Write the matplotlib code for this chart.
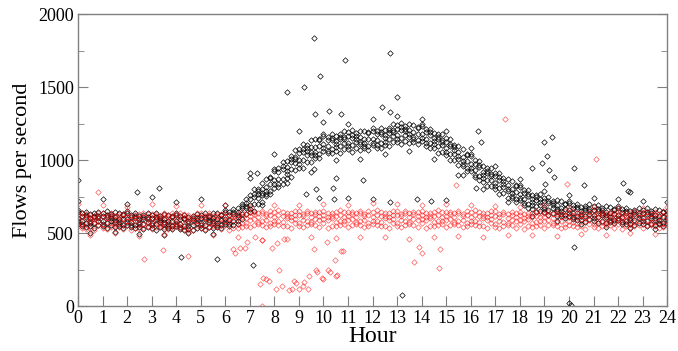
import numpy as np
import matplotlib
matplotlib.use("Agg")
import matplotlib.pyplot as plt
from matplotlib.ticker import MultipleLocator

plt.rcParams["font.family"] = ["Liberation Serif", "DejaVu Serif"]

# sample times: every 10 minutes, and every 30 minutes for the fringe rows
t10 = np.arange(0, 24 * 60 + 1, 10) / 60.0
t30 = np.arange(0, 24 * 60 + 1, 30) / 60.0

# black series, five samples per 10-minute slot (one line per hour)
black_1 = [
    643, 585, 624, 548, 607, 646,
    548, 608, 585, 641, 561, 623,
    636, 577, 616, 540, 599, 637,
    538, 597, 573, 629, 548, 611,
    623, 565, 605, 530, 591, 631,
    535, 596, 575, 634, 556, 622,
    645, 589, 645, 585, 672, 736,
    645, 748, 743, 846, 767, 876,
    925, 870, 956, 875, 987, 1068,
    949, 1053, 1037, 1135, 1032, 1138,
    1162, 1094, 1153, 1061, 1143, 1199,
    1075, 1153, 1123, 1198, 1097, 1183,
    1202, 1134, 1192, 1101, 1187, 1245,
    1125, 1203, 1173, 1248, 1141, 1219,
    1232, 1147, 1189, 1081, 1143, 1179,
    1035, 1093, 1043, 1098, 972, 1033,
    1027, 934, 967, 851, 912, 945,
    800, 861, 815, 873, 754, 821,
    818, 735, 769, 666, 728, 766,
    644, 703, 671, 727, 633, 697,
    705, 638, 678, 592, 656, 696,
    586, 650, 621, 682, 592, 661,
    673, 607, 650, 565, 630, 673,
    564, 628, 601, 662, 572, 641,
    648,
]
black_2 = [
    565, 635, 542, 601, 572, 616,
    615, 535, 630, 574, 599, 558,
    558, 627, 534, 593, 564, 607,
    605, 524, 618, 562, 586, 546,
    545, 615, 523, 583, 556, 601,
    602, 523, 620, 567, 594, 557,
    559, 644, 555, 644, 633, 703,
    733, 653, 802, 758, 816, 791,
    811, 943, 837, 952, 936, 1024,
    1046, 947, 1102, 1038, 1088, 1043,
    1061, 1159, 1046, 1130, 1097, 1160,
    1163, 1058, 1182, 1110, 1146, 1098,
    1101, 1199, 1085, 1170, 1141, 1206,
    1213, 1108, 1232, 1160, 1190, 1134,
    1131, 1212, 1082, 1150, 1097, 1140,
    1123, 998, 1102, 1010, 1021, 948,
    926, 999, 860, 920, 866, 906,
    888, 766, 874, 785, 803, 736,
    724, 795, 671, 730, 686, 730,
    718, 622, 721, 653, 675, 625,
    619, 693, 588, 651, 617, 663,
    660, 569, 671, 608, 634, 589,
    587, 662, 560, 624, 591, 640,
    638, 547, 651, 588, 614, 569,
    572,
]
black_3 = [
    600, 547, 612, 628, 537, 586,
    582, 623, 552, 609, 639, 538,
    593, 539, 604, 620, 529, 577,
    572, 612, 540, 597, 626, 526,
    580, 527, 593, 610, 521, 571,
    569, 611, 542, 602, 634, 537,
    598, 547, 632, 674, 594, 669,
    690, 768, 701, 804, 868, 765,
    862, 815, 938, 991, 885, 981,
    998, 1075, 989, 1089, 1146, 1014,
    1107, 1045, 1137, 1166, 1051, 1120,
    1120, 1173, 1081, 1156, 1198, 1072,
    1147, 1085, 1176, 1206, 1095, 1166,
    1170, 1223, 1131, 1206, 1242, 1108,
    1177, 1098, 1173, 1186, 1051, 1100,
    1080, 1113, 1001, 1056, 1073, 922,
    972, 885, 951, 956, 820, 866,
    845, 881, 773, 831, 855, 710,
    766, 689, 755, 762, 644, 694,
    681, 719, 635, 692, 719, 603,
    658, 596, 665, 681, 578, 629,
    623, 666, 585, 647, 678, 567,
    626, 565, 637, 654, 552, 606,
    601, 644, 565, 627, 658, 547,
    605,
]
black_4 = [
    580, 617, 566, 585, 634, 553,
    635, 570, 602, 541, 577, 593,
    573, 609, 558, 577, 626, 544,
    625, 559, 590, 529, 564, 581,
    560, 597, 547, 567, 618, 538,
    622, 558, 592, 534, 572, 592,
    575, 624, 581, 626, 701, 633,
    759, 699, 766, 716, 787, 837,
    833, 917, 871, 928, 1026, 933,
    1075, 998, 1061, 990, 1056, 1094,
    1080, 1136, 1078, 1110, 1178, 1078,
    1189, 1104, 1146, 1068, 1117, 1144,
    1120, 1176, 1117, 1150, 1222, 1124,
    1239, 1154, 1196, 1118, 1161, 1180,
    1150, 1189, 1114, 1130, 1178, 1058,
    1149, 1044, 1066, 968, 992, 994,
    945, 976, 892, 900, 947, 824,
    914, 812, 838, 743, 774, 782,
    742, 773, 699, 710, 760, 654,
    740, 661, 690, 617, 651, 664,
    635, 673, 614, 633, 685, 593,
    682, 608, 640, 572, 610, 628,
    603, 642, 586, 606, 659, 570,
    660, 586, 620, 552, 590, 608,
    590,
]
black_5 = [
    655, 560, 644, 568, 620, 603,
    565, 648, 618, 587, 549, 628,
    648, 552, 636, 560, 612, 594,
    555, 637, 606, 575, 536, 616,
    635, 540, 625, 550, 604, 588,
    552, 636, 608, 580, 544, 627,
    658, 561, 667, 607, 686, 688,
    667, 800, 786, 775, 751, 882,
    942, 834, 985, 904, 1006, 1005,
    974, 1111, 1085, 1057, 1015, 1145,
    1178, 1061, 1179, 1087, 1159, 1143,
    1097, 1205, 1166, 1127, 1081, 1189,
    1218, 1101, 1218, 1127, 1203, 1189,
    1147, 1255, 1216, 1177, 1125, 1225,
    1248, 1114, 1215, 1107, 1159, 1123,
    1057, 1145, 1086, 1027, 956, 1039,
    1043, 901, 993, 877, 928, 889,
    822, 913, 858, 802, 738, 827,
    832, 705, 793, 690, 744, 714,
    662, 747, 708, 668, 620, 702,
    718, 610, 700, 614, 670, 648,
    604, 694, 658, 623, 579, 666,
    686, 579, 672, 587, 644, 625,
    582, 672, 638, 603, 559, 646,
    628,
]
black_fringe = [
    720, 500, 735, 505, 700, 495, 745, 490, 710, 500, 730, 495,
    690, 560, 880, 690, 1040, 840, 1200, 920, 1260, 1000, 1250, 1010,
    1280, 1040, 1300, 1060, 1280, 1010, 1200, 900, 1080, 800, 960, 710,
    870, 620, 790, 580, 760, 560, 740, 540, 730, 535, 720, 530,
    710,
]

# red series, four samples per 10-minute slot (one line per hour)
red_1 = [
    630, 565, 602, 535, 620, 582,
    555, 618, 540, 595, 632, 572,
    582, 620, 535, 602, 565, 630,
    572, 632, 595, 540, 618, 555,
    630, 565, 602, 535, 620, 582,
    555, 618, 540, 595, 632, 572,
    584, 622, 537, 604, 567, 632,
    587, 647, 610, 555, 633, 570,
    645, 580, 617, 550, 635, 597,
    570, 633, 555, 610, 647, 587,
    597, 635, 550, 617, 580, 645,
    587, 647, 610, 555, 633, 570,
    645, 580, 617, 550, 635, 597,
    570, 633, 555, 610, 647, 587,
    597, 635, 550, 617, 580, 645,
    587, 647, 610, 555, 633, 570,
    645, 580, 617, 550, 635, 597,
    565, 628, 550, 605, 642, 582,
    592, 630, 545, 612, 575, 640,
    582, 642, 605, 550, 628, 565,
    640, 575, 612, 545, 630, 592,
    565, 628, 550, 605, 642, 582,
    592, 630, 545, 612, 575, 640,
    582, 642, 605, 550, 628, 565,
    640,
]
red_2 = [
    545, 608, 530, 625, 575, 635,
    610, 528, 622, 562, 582, 628,
    635, 575, 625, 530, 608, 545,
    628, 582, 562, 622, 528, 610,
    545, 608, 530, 625, 575, 635,
    610, 528, 622, 562, 582, 628,
    637, 577, 627, 532, 610, 547,
    643, 597, 577, 637, 543, 625,
    560, 623, 545, 640, 590, 650,
    625, 543, 637, 577, 597, 643,
    650, 590, 640, 545, 623, 560,
    643, 597, 577, 637, 543, 625,
    560, 623, 545, 640, 590, 650,
    625, 543, 637, 577, 597, 643,
    650, 590, 640, 545, 623, 560,
    643, 597, 577, 637, 543, 625,
    560, 623, 545, 640, 590, 650,
    620, 538, 632, 572, 592, 638,
    645, 585, 635, 540, 618, 555,
    638, 592, 572, 632, 538, 620,
    555, 618, 540, 635, 585, 645,
    620, 538, 632, 572, 592, 638,
    645, 585, 635, 540, 618, 555,
    638, 592, 572, 632, 538, 620,
    555,
]
red_3 = [
    598, 640, 560, 585, 520, 612,
    532, 600, 635, 548, 615, 525,
    612, 520, 585, 560, 640, 598,
    525, 615, 548, 635, 600, 532,
    598, 640, 560, 585, 520, 612,
    532, 600, 635, 548, 615, 525,
    614, 522, 587, 562, 642, 600,
    540, 630, 563, 650, 615, 547,
    613, 655, 575, 600, 535, 627,
    547, 615, 650, 563, 630, 540,
    627, 535, 600, 575, 655, 613,
    540, 630, 563, 650, 615, 547,
    613, 655, 575, 600, 535, 627,
    547, 615, 650, 563, 630, 540,
    627, 535, 600, 575, 655, 613,
    540, 630, 563, 650, 615, 547,
    613, 655, 575, 600, 535, 627,
    542, 610, 645, 558, 625, 535,
    622, 530, 595, 570, 650, 608,
    535, 625, 558, 645, 610, 542,
    608, 650, 570, 595, 530, 622,
    542, 610, 645, 558, 625, 535,
    622, 530, 595, 570, 650, 608,
    535, 625, 558, 645, 610, 542,
    608,
]
red_4 = [
    570, 538, 628, 605, 595, 552,
    638, 575, 568, 620, 542, 602,
    552, 595, 605, 628, 538, 570,
    602, 542, 620, 568, 575, 638,
    570, 538, 628, 605, 595, 552,
    638, 575, 568, 620, 542, 602,
    554, 597, 607, 630, 540, 572,
    617, 557, 635, 583, 590, 653,
    585, 553, 643, 620, 610, 567,
    653, 590, 583, 635, 557, 617,
    567, 610, 620, 643, 553, 585,
    617, 557, 635, 583, 590, 653,
    585, 553, 643, 620, 610, 567,
    653, 590, 583, 635, 557, 617,
    567, 610, 620, 643, 553, 585,
    617, 557, 635, 583, 590, 653,
    585, 553, 643, 620, 610, 567,
    648, 585, 578, 630, 552, 612,
    562, 605, 615, 638, 548, 580,
    612, 552, 630, 578, 585, 648,
    580, 548, 638, 615, 605, 562,
    648, 585, 578, 630, 552, 612,
    562, 605, 615, 638, 548, 580,
    612, 552, 630, 578, 585, 648,
    580,
]
red_fringe = [
    700, 490, 690, 500, 680, 480, 700, 495, 685, 505, 690, 490,
    695, 470, 680, 455, 690, 460, 695, 470, 700, 465, 690, 475,
    705, 470, 700, 460, 695, 475, 700, 480, 690, 470, 685, 485,
    680, 490, 690, 480, 675, 495, 680, 490, 670, 500, 675, 495,
    680,
]

# isolated points away from the bands (hour, flows/s)
black_out_h = [0.0, 2.4, 3.3, 4.2, 5.65, 7.0, 7.3, 7.15, 8.5, 9.22, 9.6, 9.84,
               10.86, 12.7, 13.0, 9.67, 10.24, 10.73, 12.37, 12.72, 13.2, 9.6,
               10.5, 9.7, 10.4, 11.6, 9.3, 9.8, 10.42, 11.0, 12.0, 12.7, 13.8,
               14.4, 15.0, 15.7, 16.2, 16.3, 16.4, 19.0, 19.3, 19.1, 18.9, 18.5,
               19.2, 19.4, 20.2, 19.02, 20.6, 22.2, 20.22, 20.0, 20.1, 22.4, 22.5]
black_out_v = [860, 778, 812, 335, 321, 908, 908, 280, 1468, 1502, 1836, 1577,
               1686, 1734, 1433, 1317, 1338, 1317, 1365, 1331, 75, 942,
               874, 805, 812, 860, 770, 737, 730, 737, 730, 710, 730,
               720, 725, 900, 810, 1201, 1126, 1126, 1160, 1031, 983, 949,
               935, 887, 949, 833, 826, 846, 403, 20, 5, 790, 780]
red_out_h = [17.4, 21.1, 19.9, 15.4, 0.8, 7.5, 6.4, 6.6, 6.8, 8.2, 7.65, 7.55,
             7.8, 7.4, 8.05, 8.3, 8.6, 8.7, 8.8, 8.9, 9.2, 9.15, 9.0, 9.35,
             9.4, 9.7, 9.75, 10.2, 10.25, 9.95, 10.0, 10.5, 10.55, 10.45, 10.8,
             9.6, 10.15, 6.3, 7.9, 2.7, 3.45, 4.5, 13.9, 14.0, 14.7, 14.75,
             13.7, 10.7, 7.2, 7.5, 8.1, 8.4, 6.9]
red_out_v = [1283, 1010, 833, 826, 780, 3, 362, 400, 395, 246, 184, 190,
             175, 150, 116, 137, 109, 120, 170, 160, 164, 140, 116, 116,
             205, 250, 235, 246, 230, 191, 185, 205, 215, 314, 375,
             389, 437, 389, 400, 321, 382, 341, 403, 365, 260, 390,
             300, 375, 470, 450, 430, 460, 440]

fig = plt.figure(figsize=(6.78, 3.51), dpi=100)
ax = fig.add_axes([0.115, 0.128, 0.869, 0.832])

mk = dict(marker="D", ms=2.8, mew=0.5, mfc="none", ls="none")
for ys in (black_1, black_2, black_3, black_4, black_5):
    ax.plot(t10, ys, mec="black", **mk)
ax.plot(t30, black_fringe, mec="black", **mk)
ax.plot(black_out_h, black_out_v, mec="black", **mk)

red = (1.0, 0.0, 0.0, 0.65)
for ys in (red_1, red_2, red_3, red_4):
    ax.plot(t10, ys, mec=red, **mk)
ax.plot(t30, red_fringe, mec=red, **mk)
ax.plot(red_out_h, red_out_v, mec=red, **mk)

ax.set_xlim(0, 24)
ax.set_ylim(0, 2000)
ax.xaxis.set_major_locator(MultipleLocator(1))
ax.yaxis.set_major_locator(MultipleLocator(500))
ax.yaxis.set_minor_locator(MultipleLocator(250))

for s in ax.spines.values():
    s.set_color("#808080")
    s.set_linewidth(1.0)
ax.tick_params(which="both", direction="in", color="#808080", top=False,
               right=True, labelsize=13, pad=3)
ax.tick_params(which="major", length=7)
ax.tick_params(which="minor", length=4)

ax.set_xlabel("Hour", fontsize=17, labelpad=-1)
ax.set_ylabel("Flows per second", fontsize=16, labelpad=4)

fig.savefig("out.png", dpi=100)
